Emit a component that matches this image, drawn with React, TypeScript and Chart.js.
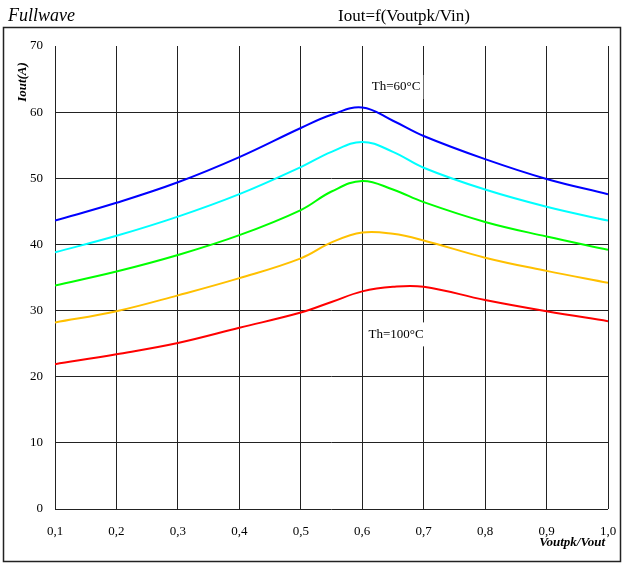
import React, { useEffect, useRef } from "react";
import { Chart, registerables } from "chart.js";

Chart.register(...registerables);

// Voutpk/Vout ratio sample points
const ratio = [0.1, 0.2, 0.3, 0.4, 0.5, 0.55, 0.6, 0.65, 0.7, 0.8, 0.9, 1.0];

// Output current (A) per heatsink temperature curve
const iout60 = [43.6, 46.3, 49.4, 53.2, 57.6, 59.6, 60.7, 58.7, 56.4, 52.9, 49.9, 47.6];
const ioutB = [38.8, 41.3, 44.2, 47.6, 51.7, 54.0, 55.5, 54.0, 51.6, 48.3, 45.7, 43.6];
const ioutC = [33.8, 35.9, 38.4, 41.4, 45.2, 48.0, 49.6, 48.3, 46.4, 43.4, 41.2, 39.2];
const ioutD = [28.2, 29.9, 32.3, 34.9, 37.9, 40.3, 41.8, 41.6, 40.6, 38.0, 36.0, 34.2];
const iout100 = [21.9, 23.4, 25.1, 27.4, 29.7, 31.3, 32.9, 33.6, 33.6, 31.6, 29.9, 28.4];

const seriesColors = ["#0000ff", "#00ffff", "#00ff00", "#ffc000", "#ff0000"];

// Curve annotations: text, x ratio, y current
const noteText = ["Th=60°C", "Th=100°C"];
const noteX = [0.655, 0.655];
const noteY = [63.8, 26.4];

const yTicks = [0, 10, 20, 30, 40, 50, 60, 70];

const SERIF = "'Liberation Serif', 'Times New Roman', serif";

const decorPlugin = {
  id: "decor",
  beforeDraw(chart: any) {
    const ctx = chart.ctx;
    ctx.save();
    ctx.fillStyle = "#ffffff";
    ctx.fillRect(0, 0, chart.width, chart.height);
    // frame around the plot
    ctx.strokeStyle = "#222";
    ctx.lineWidth = 1.5;
    ctx.strokeRect(3.5, 27.5, 617, 534);
    // headings
    ctx.fillStyle = "#000";
    ctx.textBaseline = "alphabetic";
    ctx.textAlign = "left";
    ctx.font = `italic 18px ${SERIF}`;
    ctx.fillText("Fullwave", 8, 21);
    ctx.font = `17px ${SERIF}`;
    ctx.fillText("Iout=f(Voutpk/Vin)", 338, 21);
    ctx.restore();
  },
  afterDatasetsDraw(chart: any) {
    const ctx = chart.ctx;
    const xs = chart.scales.x;
    const ys = chart.scales.y;
    ctx.save();
    ctx.font = `13px ${SERIF}`;
    ctx.textAlign = "center";
    ctx.textBaseline = "middle";
    noteText.forEach((t, i) => {
      const cx = xs.getPixelForValue(noteX[i]);
      const cy = ys.getPixelForValue(noteY[i]);
      const w = ctx.measureText(t).width;
      ctx.fillStyle = "#ffffff";
      ctx.fillRect(cx - w / 2 - 3, cy - 12, w + 6, 24);
      ctx.fillStyle = "#000";
      ctx.fillText(t, cx, cy);
    });
    // axis titles
    ctx.font = `bold italic 13px ${SERIF}`;
    ctx.save();
    ctx.translate(23, 82);
    ctx.rotate(-Math.PI / 2);
    ctx.fillText("Iout(A)", 0, 0);
    ctx.restore();
    ctx.textAlign = "right";
    ctx.fillText("Voutpk/Vout", 605, 543);
    ctx.restore();
  },
};

export default function App() {
  const ref = useRef<HTMLCanvasElement | null>(null);

  useEffect(() => {
    if (!ref.current) return;
    const all = [iout60, ioutB, ioutC, ioutD, iout100];
    const chart = new Chart(ref.current, {
      type: "line",
      data: {
        datasets: all.map((vals, i) => ({
          data: vals.map((v, j) => ({ x: ratio[j], y: v })),
          borderColor: seriesColors[i],
          borderWidth: 2,
          pointRadius: 0,
          fill: false,
          tension: 0.4,
        })),
      },
      options: {
        animation: false,
        responsive: false,
        devicePixelRatio: 1,
        layout: { padding: { left: 0, right: 15, top: 46, bottom: 0 } },
        plugins: {
          legend: { display: false },
          tooltip: { enabled: false },
        },
        scales: {
          x: {
            type: "linear",
            min: 0.1,
            max: 1.0,
            ticks: {
              stepSize: 0.1,
              padding: 15,
              color: "#000",
              font: { family: SERIF, size: 13 },
              callback: (v: any) => Number(v).toFixed(1).replace(".", ","),
            },
            grid: { color: "#222", lineWidth: 1, drawTicks: false },
            border: { display: false },
            afterFit: (s: any) => {
              s.height = 54;
              s.paddingLeft = 0;
              s.paddingRight = 0;
            },
          },
          y: {
            min: 0,
            max: 70,
            afterBuildTicks: (s: any) => {
              s.ticks = yTicks.map((v) => ({ value: v }));
            },
            ticks: {
              padding: 12,
              color: "#000",
              font: { family: SERIF, size: 13 },
            },
            grid: {
              color: (c: any) => (c.tick && c.tick.value === 70 ? "rgba(0,0,0,0)" : "#222"),
              lineWidth: 1,
              drawTicks: false,
            },
            border: { display: false },
            afterFit: (s: any) => {
              s.width = 55;
              s.paddingTop = 0;
              s.paddingBottom = 0;
            },
          },
        },
      },
      plugins: [decorPlugin],
    });
    return () => chart.destroy();
  }, []);

  return (
    <div style={{ position: "absolute", left: 0, top: 0, width: 623, height: 563 }}>
      <canvas ref={ref} width={623} height={563} style={{ display: "block" }} />
    </div>
  );
}
